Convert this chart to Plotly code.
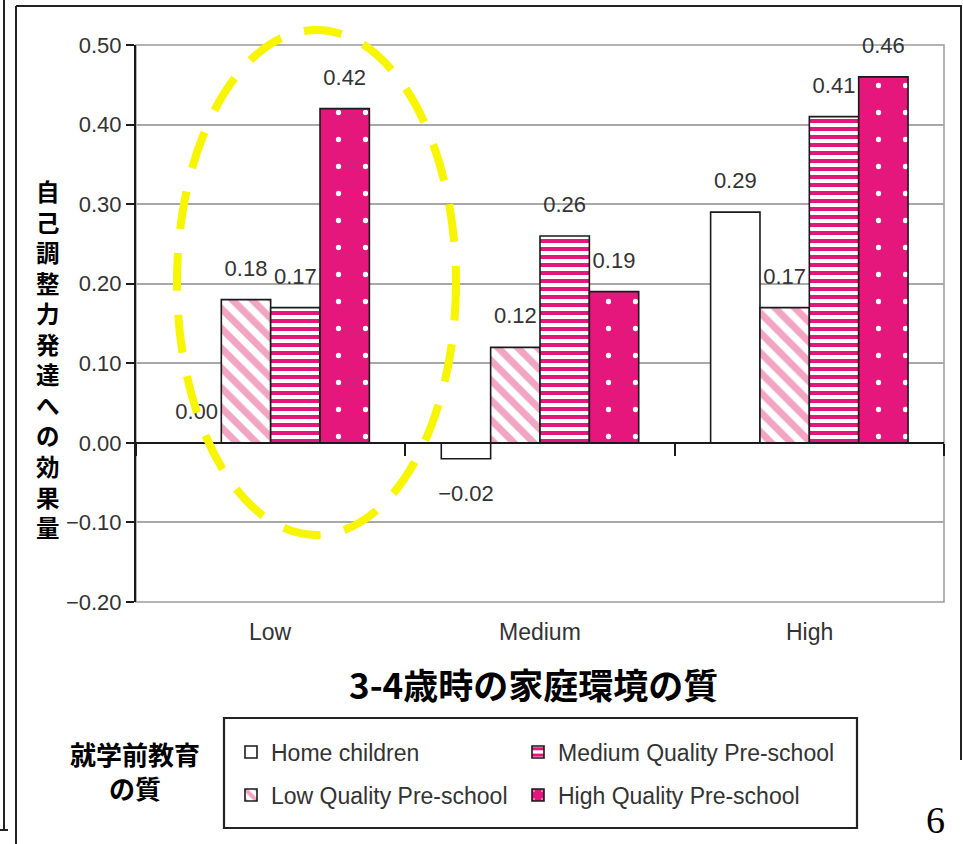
import plotly.graph_objects as go

# Home environment quality at age 3-4 (x categories)
categories = ["Low", "Medium", "High"]

# Effect sizes on self-regulation development, per pre-school type
home_children = [0.00, -0.02, 0.29]
low_quality = [0.18, 0.12, 0.17]
medium_quality = [0.17, 0.26, 0.41]
high_quality = [0.42, 0.19, 0.46]

series_names = [
    "Home children",
    "Low Quality Pre-school",
    "Medium Quality Pre-school",
    "High Quality Pre-school",
]
y_ticks = [-0.20, -0.10, 0.00, 0.10, 0.20, 0.30, 0.40, 0.50]

y_title = "自己調整力発達への効果量"
x_title = "3-4歳時の家庭環境の質"
legend_title = "就学前教育<br>の質"
page_number = "6"

# ---- layout geometry (pixels) ----
W, H = 963, 844
L, R, T, B = 136, 19, 45, 242
PW, PH = W - L - R, H - T - B
Y_MIN, Y_MAX = -0.2, 0.5


def px_x(x):
    return (x - L) / PW


def px_y(y):
    return (H - B - y) / PH


MAGENTA = "#e5177d"
PINK = "#f2a5c2"
TXT = "#333333"
FONT = "Liberation Sans, Arial, sans-serif"
CJK = "Noto Sans CJK JP"

styles = [
    dict(color="white", pattern=None),
    dict(color=PINK, pattern=dict(shape="\\", fgcolor=PINK, bgcolor="white",
                                  size=14, solidity=0.5, fillmode="replace")),
    dict(color=MAGENTA, pattern=dict(shape="-", fgcolor=MAGENTA, bgcolor="white",
                                     size=8, solidity=0.5, fillmode="replace")),
    dict(color=MAGENTA, pattern=dict(shape=".", fgcolor="white", bgcolor=MAGENTA,
                                     size=27, solidity=0.03, fillmode="replace")),
]
# each legend entry gets its own small legend so it can sit in a 2x2 grid
legend_ids = ["legend", "legend2", "legend3", "legend4"]
legend_pos = [(231, 752), (231, 795), (518, 752), (518, 795)]
all_values = [home_children, low_quality, medium_quality, high_quality]


def fmt(v):
    return f"{v:.2f}".replace("-", "\u2212")


fig = go.Figure()

for name, vals, st, lg in zip(series_names, all_values, styles, legend_ids):
    marker = dict(color=st["color"], line=dict(color="#1a1a1a", width=1.6))
    if st["pattern"] is not None:
        marker["pattern"] = st["pattern"]
    fig.add_trace(go.Bar(
        x=categories, y=vals, name=name, marker=marker,
        legend=lg, offsetgroup=name, hoverinfo="skip",
    ))

# value labels, grouped the same way as the bars
for name, vals in zip(series_names, all_values):
    fig.add_trace(go.Scatter(
        x=categories, y=vals, mode="markers+text",
        text=[fmt(v) for v in vals],
        textposition=["top center" if v >= 0 else "bottom center" for v in vals],
        textfont=dict(family=FONT, size=22, color=TXT),
        marker=dict(size=[28 if v >= 0 else 39 for v in vals],
                    color="rgba(0,0,0,0)", line=dict(width=0)),
        offsetgroup=name, showlegend=False, cliponaxis=False, hoverinfo="skip",
    ))

shapes = [
    # plot frame
    dict(type="rect", xref="paper", yref="paper", x0=0, x1=1, y0=0, y1=1,
         line=dict(color="#9a9a9a", width=1.5), layer="below"),
    # legend box
    dict(type="rect", xref="paper", yref="paper",
         x0=px_x(224), x1=px_x(857), y0=px_y(828), y1=px_y(718),
         line=dict(color="#222222", width=2.2), fillcolor="rgba(0,0,0,0)"),
    # highlight ellipse around the low home-environment group
    dict(type="circle", xref="paper", yref="paper",
         x0=px_x(177), x1=px_x(456), y0=px_y(535), y1=px_y(30),
         line=dict(color="#f8f500", width=8, dash="38px,24px"), layer="above"),
]

# slide frame lines
frame_lines = [
    (4, 0, 4, 830), (0, 830, 8, 830),
    (16, 6, 16, 844), (16, 6, 962, 6), (961, 6, 961, 760),
]
for x0, y0, x1, y1 in frame_lines:
    shapes.append(dict(type="line", xref="paper", yref="paper",
                       x0=px_x(x0), x1=px_x(x1), y0=px_y(y0), y1=px_y(y1),
                       line=dict(color="#222222", width=2)))


def note(x, y, text, font, xref="paper", yanchor="middle"):
    return dict(x=x, y=y, xref=xref, yref="paper", text=text,
                showarrow=False, xanchor="center", yanchor=yanchor, font=font)


annotations = []
# category labels along the bottom
for c in categories:
    annotations.append(note(c, px_y(632), c,
                            dict(family=FONT, size=23, color=TXT), xref="x"))
annotations += [
    # vertical y-axis title, one character per row
    note(px_x(48), px_y(359), "<br>".join(y_title),
         dict(family=CJK, size=23.5, color="black", weight="bold")),
    note(px_x(533), px_y(683), x_title,
         dict(family=CJK, size=35, color="black", weight="bold")),
    note(px_x(135), px_y(770), legend_title,
         dict(family=CJK, size=26, color="black", weight="bold")),
    note(px_x(935), px_y(843), page_number,
         dict(family="Liberation Serif, serif", size=38, color="black"),
         yanchor="bottom"),
]

legend_layout = {}
for lg, (lx, ly) in zip(legend_ids, legend_pos):
    legend_layout[lg] = dict(
        x=px_x(lx), y=px_y(ly), xanchor="left", yanchor="middle",
        orientation="h", font=dict(family=FONT, size=23, color=TXT),
        bgcolor="rgba(0,0,0,0)", borderwidth=0,
    )

fig.update_layout(
    width=W, height=H,
    margin=dict(l=L, r=R, t=T, b=B, pad=0),
    paper_bgcolor="white", plot_bgcolor="white",
    barmode="group", bargap=0.267, bargroupgap=0,
    scattermode="group", scattergap=0.267,
    showlegend=True,
    xaxis=dict(
        type="category", categoryorder="array", categoryarray=categories,
        range=[-0.5, 2.5], anchor="free",
        position=(0 - Y_MIN) / (Y_MAX - Y_MIN),
        showline=True, linecolor="#1a1a1a", linewidth=2,
        ticks="outside", tickson="boundaries", ticklen=12, tickwidth=1.6,
        tickcolor="#1a1a1a", showticklabels=False, showgrid=False,
        zeroline=False, fixedrange=True,
    ),
    yaxis=dict(
        range=[Y_MIN, Y_MAX], tickvals=y_ticks, tickformat=".2f",
        showline=True, linecolor="#1a1a1a", linewidth=2,
        ticks="outside", ticklen=8, tickwidth=2, tickcolor="#1a1a1a",
        showgrid=True, gridcolor="#a8a8a8", gridwidth=1.5,
        zeroline=False, tickfont=dict(family=FONT, size=22, color=TXT),
        fixedrange=True,
    ),
    shapes=shapes,
    annotations=annotations,
    **legend_layout,
)

fig.write_html("out.html")
